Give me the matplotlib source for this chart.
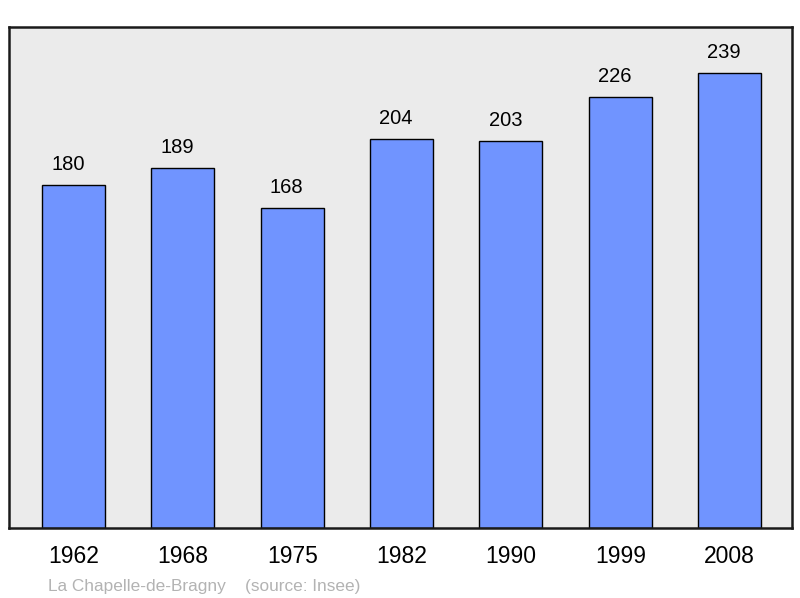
import matplotlib.pyplot as plt

plt.rcParams['font.family'] = ['Liberation Sans', 'DejaVu Sans']

years = ['1962', '1968', '1975', '1982', '1990', '1999', '2008']
population = [180, 189, 168, 204, 203, 226, 239]
commune = 'La Chapelle-de-Bragny'
source = '(source: Insee)'

fig = plt.figure(figsize=(8, 5.98), dpi=100)
ax = fig.add_axes([0.01125, 0.117, 0.97875, 0.838])
ax.set_facecolor('#ebebeb')

x = list(range(len(years)))
ax.bar(x, population, width=0.576, color='#7094ff', edgecolor='black', linewidth=1.0, zorder=2)
for xi, v in zip(x, population):
    ax.annotate(str(v), (xi, v), xytext=(-4, 8), textcoords='offset points',
                ha='center', va='bottom', fontsize=14.5)

ax.set_xlim(-0.59, 6.57)
ax.set_ylim(0, 263)
ax.set_yticks([])
ax.set_xticks(x)
ax.set_xticklabels(years, fontsize=16.5)
ax.tick_params(axis='x', length=0, pad=12)
for s in ax.spines.values():
    s.set_linewidth(1.8)
    s.set_color('#1a1a1a')

fig.text(0.06, 0.012, commune, color='#b3b3b3', fontsize=12.4)
fig.text(0.306, 0.012, source, color='#b3b3b3', fontsize=12.4)

fig.savefig('out.png', dpi=100)
